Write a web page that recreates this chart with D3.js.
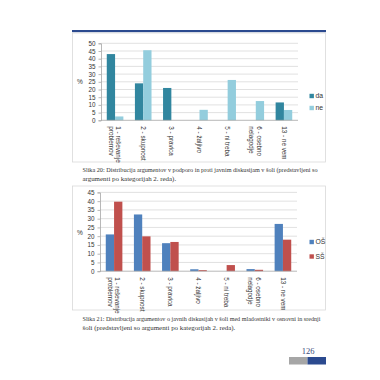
<!DOCTYPE html>
<html><head><meta charset="utf-8">
<script src="https://cdn.jsdelivr.net/npm/d3@7"></script>
<style>html,body{margin:0;padding:0;background:#fff}</style>
</head><body>
<svg id="c" width="380" height="380"></svg>
<script>
const categories = [["1 - reševanje","problemov"],["2 - skupnost"],["3 - pravica"],["4 - žaljivo"],["5 - ni treba"],["6 - osebno","nelagodje"],["13 - ne vem"]];
const chart1Series = ["da","ne"];
const chart1Da = [43, 24, 21, 0, 0, 0, 11.6];
const chart1Ne = [2.5, 45.5, 0, 6.8, 26.2, 12.5, 6.7];
const chart1Ticks = [0,5,10,15,20,25,30,35,40,45,50];
const chart2Series = ["OŠ","SŠ"];
const chart2OS = [21, 32.4, 16, 1.1, 0, 1.2, 27];
const chart2SS = [39.7, 19.9, 16.7, 0.6, 3.5, 0.8, 18];
const chart2Ticks = [0,5,10,15,20,25,30,35,40,45];
const caption1 = ["Slika 20: Distribucija argumentov v podporo in proti javnim diskusijam v šoli (predstavljeni so","argumenti po kategorijah 2. reda)."];
const caption2 = ["Slika 21: Distribucija argumentov o javnih diskusijah v šoli med mladostniki v osnovni in srednji","šoli (predstavljeni so argumenti po kategorijah 2. reda)."];
const pageNumber = "126";

const svg = d3.select("#c");
const sans = "'Liberation Sans', Arial, sans-serif";
const serif = "'Liberation Serif', 'DejaVu Serif', serif";

// header rule
svg.append("rect").attr("x",72).attr("y",30).attr("width",254).attr("height",2.2).attr("fill","#2b4a8f");

function drawChart(cfg){
  const g = svg.append("g");
  // frame
  g.append("rect").attr("x",72.5).attr("y",cfg.boxTop).attr("width",253).attr("height",cfg.boxBottom-cfg.boxTop)
    .attr("fill","none").attr("stroke","#d9d9d9").attr("stroke-width",0.8);
  const x = d3.scaleBand().domain(d3.range(categories.length)).range([cfg.x0,cfg.x1]).paddingInner(0.41).paddingOuter(0.205);
  const xs = d3.scaleBand().domain([0,1]).range([0,x.bandwidth()]);
  const y = d3.scaleLinear().domain([0,cfg.max]).range([cfg.y0,cfg.yMax]);
  // gridlines
  g.append("g").selectAll("line").data(cfg.ticks.filter(t=>t>0)).join("line")
    .attr("x1",cfg.x0).attr("x2",cfg.x1).attr("y1",d=>y(d)).attr("y2",d=>y(d))
    .attr("stroke","#d9d9d9").attr("stroke-width",0.8);
  // y axis
  const ya = g.append("g").attr("transform",`translate(${cfg.x0},0)`)
    .call(d3.axisLeft(y).tickValues(cfg.ticks).tickSize(2.5).tickPadding(3));
  ya.select(".domain").attr("stroke","#a6a6a6").attr("stroke-width",0.8);
  ya.selectAll(".tick line").attr("stroke","#a6a6a6").attr("stroke-width",0.8);
  ya.selectAll("text").attr("font-family",sans).attr("font-size",6.3).attr("fill","#333");
  // bars
  const series = [cfg.a, cfg.b];
  series.forEach((vals,si)=>{
    g.append("g").selectAll("rect").data(vals).join("rect")
      .attr("x",(d,i)=>x(i)+xs(si)).attr("width",xs.bandwidth())
      .attr("y",d=>y(d)).attr("height",d=>cfg.y0-y(d)).attr("fill",cfg.colors[si]);
  });
  // x axis line
  g.append("line").attr("x1",cfg.x0).attr("x2",cfg.x1).attr("y1",cfg.y0).attr("y2",cfg.y0)
    .attr("stroke","#a6a6a6").attr("stroke-width",0.8);
  // category labels rotated
  categories.forEach((lines,i)=>{
    const cx = x(i)+x.bandwidth()/2;
    const n = lines.length;
    lines.forEach((ln,li)=>{
      const off = (n===1)?0:(li===0? 3.6 : -4.2);
      g.append("text").attr("transform",`translate(${cx+off+ -2.2},${cfg.y0+6}) rotate(90)`)
        .attr("font-family",sans).attr("font-size",6.3).attr("fill","#333").text(ln);
    });
  });
  // % label
  g.append("text").attr("x",80).attr("y",cfg.pctY).attr("text-anchor","middle").attr("font-family",sans)
    .attr("font-size",6.5).attr("fill","#333").text("%");
  // legend
  cfg.names.forEach((nm,i)=>{
    const ly = cfg.legY + i*cfg.legGap;
    g.append("rect").attr("x",309.5).attr("y",ly-2.2).attr("width",4.4).attr("height",4.4).attr("fill",cfg.colors[i]);
    g.append("text").attr("x",315.5).attr("y",ly+2.3).attr("font-family",sans).attr("font-size",6.8).attr("fill","#333").text(nm);
  });
  // caption
  cfg.caption.forEach((ln,i)=>{
    const t = g.append("text").attr("x",82.5).attr("y",cfg.capY+i*9).attr("font-family",serif).attr("font-size",6.9).attr("fill","#333").text(ln);
    if(i===0) t.attr("textLength",cfg.capLen).attr("lengthAdjust","spacingAndGlyphs");
  });
}

drawChart({boxTop:33, boxBottom:162, x0:101, x1:298, y0:120.3, yMax:43.3, max:50, ticks:chart1Ticks,
  a:chart1Da, b:chart1Ne, colors:["#31869f","#93cddd"], names:chart1Series, pctY:84, legY:96, legGap:12,
  caption:caption1, capY:172, capLen:235});
drawChart({boxTop:186, boxBottom:310, x0:100, x1:297, y0:271.2, yMax:192.4, max:45, ticks:chart2Ticks,
  a:chart2OS, b:chart2SS, colors:["#4f81bd","#c0504d"], names:chart2Series, pctY:235, legY:242, legGap:14.5,
  caption:caption2, capY:321, capLen:238});

// page number and footer bars
svg.append("text").attr("x",308).attr("y",354).attr("text-anchor","middle").attr("font-family",serif)
  .attr("font-size",8.5).attr("fill","#3a4a7a").text(pageNumber);
svg.append("rect").attr("x",289).attr("y",357).attr("width",18.5).attr("height",7.5).attr("fill","#a6a6a6");
svg.append("rect").attr("x",307.5).attr("y",357).attr("width",18.5).attr("height",7.5).attr("fill","#2b4a8f");
</script>
</body></html>
